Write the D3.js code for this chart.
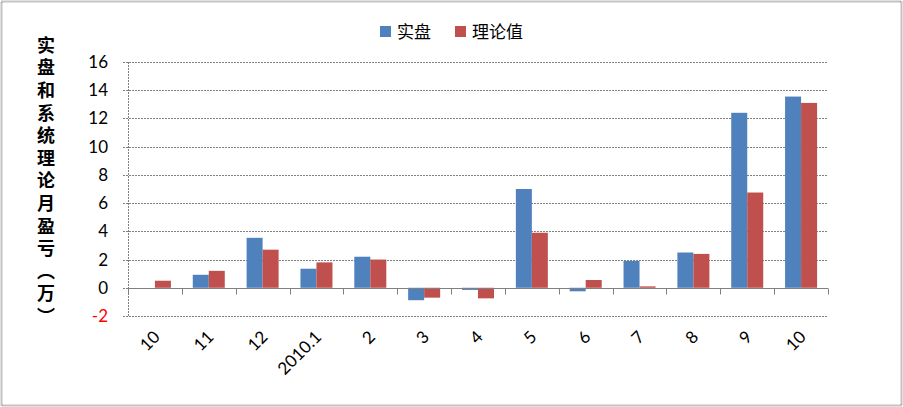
<!DOCTYPE html>
<html>
<head>
<meta charset="utf-8">
<script src="https://cdn.jsdelivr.net/npm/d3@7"></script>
<style>
  body { margin: 0; background: #fff; }
  svg text { font-family: Lato, "Noto Sans CJK SC", sans-serif; }
</style>
</head>
<body>
<div class="chart-wrapper"></div>
<script>
const months = ['10', '11', '12', '2010.1', '2', '3', '4', '5', '6', '7', '8', '9', '10']
const actual = [0, 0.92, 3.54, 1.35, 2.2, -0.88, -0.15, 7.0, -0.25, 1.9, 2.5, 12.4, 13.55]
const theory = [0.5, 1.2, 2.7, 1.8, 2.0, -0.7, -0.75, 3.9, 0.55, 0.1, 2.4, 6.75, 13.1]
const seriesNames = ['实盘', '理论值']
const yTicks = [-2, 0, 2, 4, 6, 8, 10, 12, 14, 16]
const yTitle = '实盘和系统理论月盈亏（万）'

const colors = ['#4F81BD', '#C0504D']

const width = 903
const height = 407
const margin = {top: 62, right: 75, bottom: 91, left: 128}

const svg = d3.select('.chart-wrapper')
.append('svg')
.attr('width', width)
.attr('height', height)

// outer frame
svg.append('rect')
.attr('x', 1.5).attr('y', 1.5)
.attr('width', width - 3).attr('height', height - 3)
.attr('fill', '#fff')
.attr('stroke', '#888')
.attr('stroke-width', 2)
.attr('stroke-dasharray', '1,1')

const x = d3.scaleBand()
.domain(d3.range(months.length))
.range([margin.left, width - margin.right])

const y = d3.scaleLinear()
.domain([-2, 16])
.range([height - margin.bottom, margin.top])

const barW = 16

// gridlines
svg.append('g')
.selectAll('line')
.data(yTicks)
.join('line')
.attr('x1', margin.left - 5)
.attr('x2', width - margin.right)
.attr('y1', d => Math.round(y(d)) + 0.5)
.attr('y2', d => Math.round(y(d)) + 0.5)
.attr('stroke', '#808080')
.attr('stroke-width', 1)
.attr('stroke-dasharray', '2,1')

// y axis line
svg.append('line')
.attr('x1', margin.left + 0.5).attr('x2', margin.left + 0.5)
.attr('y1', y(16)).attr('y2', y(-2))
.attr('stroke', '#808080')
.attr('stroke-dasharray', '2,1')

// y labels
svg.append('g')
.selectAll('text')
.data(yTicks)
.join('text')
.attr('x', 108)
.attr('y', d => y(d))
.attr('dy', '0.35em')
.attr('text-anchor', 'end')
.attr('font-size', 17)
.attr('fill', d => d < 0 ? '#ff0000' : '#000')
.text(d => d)

// bars
const groups = svg.append('g')
.selectAll('g')
.data(months.map((m, i) => [actual[i], theory[i]]))
.join('g')
.attr('transform', (d, i) => `translate(${x(i) + x.bandwidth() / 2 - barW},0)`)

groups.selectAll('rect')
.data(d => d)
.join('rect')
.attr('x', (d, j) => j * barW)
.attr('y', d => y(Math.max(0, d)))
.attr('width', barW)
.attr('height', d => Math.abs(y(d) - y(0)))
.attr('fill', (d, j) => colors[j])

// x axis at zero
const axisY = Math.round(y(0)) + 0.5
svg.append('line')
.attr('x1', margin.left).attr('x2', width - margin.right)
.attr('y1', axisY).attr('y2', axisY)
.attr('stroke', '#808080')

svg.append('g')
.selectAll('line')
.data(d3.range(months.length + 1))
.join('line')
.attr('x1', i => Math.round(margin.left + i * x.step()) + 0.5)
.attr('x2', i => Math.round(margin.left + i * x.step()) + 0.5)
.attr('y1', axisY).attr('y2', axisY + 6)
.attr('stroke', '#808080')

// x labels
svg.append('g')
.selectAll('text')
.data(months)
.join('text')
.attr('text-anchor', 'end')
.attr('font-size', 17)
.attr('transform', (d, i) => `translate(${x(i) + x.bandwidth() / 2 + 6},${y(-2) + 22}) rotate(-45)`)
.text(d => d)

// y title, vertical writing
svg.append('text')
.attr('x', 46)
.attr('y', 36)
.style('writing-mode', 'vertical-rl')
.style('text-orientation', 'upright')
.style('letter-spacing', '4.6px')
.style('font-family', '"Noto Sans CJK SC"')
.attr('font-size', 18)
.attr('font-weight', 'bold')
.text(yTitle)

// legend
const legend = svg.append('g')
.selectAll('g')
.data(seriesNames)
.join('g')
.attr('transform', (d, i) => `translate(${380 + i * 75},32)`)

legend.append('rect')
.attr('x', 0).attr('y', -6)
.attr('width', 11).attr('height', 11)
.attr('fill', (d, i) => colors[i])

legend.append('text')
.attr('x', 17)
.attr('dy', '0.35em')
.attr('font-size', 17)
.style('font-family', '"Noto Sans CJK SC"')
.text(d => d)
</script>
</body>
</html>
